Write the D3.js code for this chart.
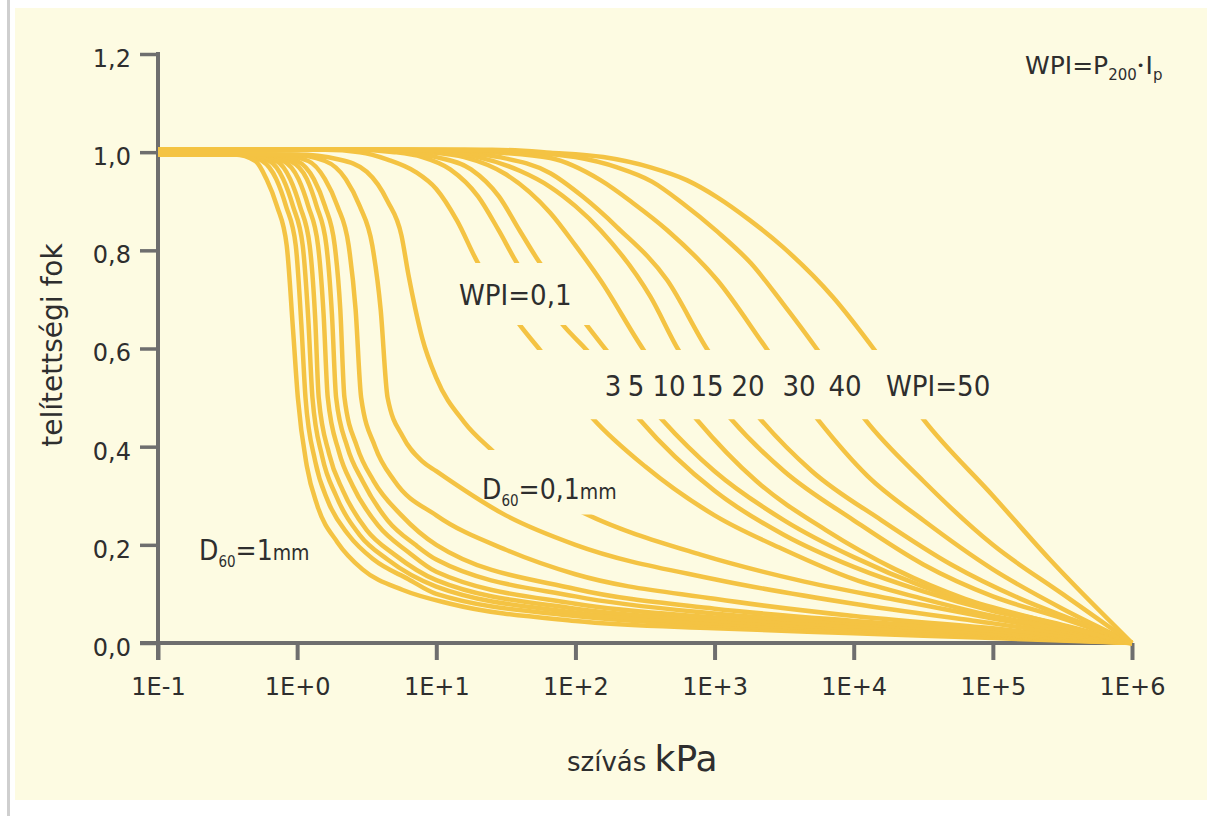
<!DOCTYPE html>
<html>
<head>
<meta charset="utf-8">
<script src="https://cdn.jsdelivr.net/npm/d3@7"></script>
<style>
  html, body { margin: 0; padding: 0; background: #ffffff; }
  svg { display: block; }
  text { font-family: "DejaVu Sans", sans-serif; fill: #2e2e2e; }
  .cond { font-family: "DejaVu Sans Condensed", "DejaVu Sans", sans-serif; }
</style>
</head>
<body>
<svg id="chart" width="1210" height="816"></svg>
<script>
// Soil-water characteristic curves: degree of saturation vs. suction.
// Each point is [log10(suction in kPa), degree of saturation].

// Granular soils, D60 = 1 mm ... 0.1 mm
const d60_10 = [[-1,0.995],[-0.45,0.995],[-0.3,0.982],[-0.22,0.945],[-0.145,0.89],[-0.075,0.81],[-0.03,0.64],[0.005,0.5],[0.07,0.36],[0.145,0.28],[0.29,0.205],[0.47,0.15],[0.76,0.108],[1.1,0.08],[2,0.045],[3,0.03],[4,0.02],[5,0.01],[6,0]];
const d60_09 = [[-1,0.995],[-0.4,0.995],[-0.25,0.982],[-0.15,0.945],[-0.08,0.89],[-0.01,0.81],[0.03,0.65],[0.06,0.5],[0.13,0.37],[0.22,0.29],[0.37,0.22],[0.55,0.17],[0.8,0.13],[1.0,0.1],[2,0.055],[3,0.036],[4,0.024],[5,0.012],[6,0]];
const d60_08 = [[-1,0.995],[-0.38,0.995],[-0.2,0.982],[-0.1,0.945],[-0.03,0.89],[0.04,0.81],[0.08,0.66],[0.11,0.5],[0.18,0.38],[0.28,0.3],[0.45,0.22],[0.65,0.17],[1.0,0.115],[2,0.062],[3,0.04],[4,0.027],[5,0.014],[6,0]];
const d60_07 = [[-1,0.995],[-0.35,0.995],[-0.15,0.982],[-0.05,0.945],[0.02,0.89],[0.09,0.81],[0.13,0.66],[0.155,0.5],[0.23,0.385],[0.33,0.31],[0.5,0.23],[0.7,0.18],[1.0,0.128],[2,0.07],[3,0.046],[4,0.03],[5,0.016],[6,0]];
const d60_06 = [[-1,0.995],[-0.3,0.995],[-0.1,0.982],[0.01,0.945],[0.08,0.89],[0.15,0.81],[0.19,0.67],[0.22,0.5],[0.3,0.39],[0.4,0.32],[0.58,0.24],[0.8,0.185],[1.0,0.145],[2,0.08],[3,0.052],[4,0.034],[5,0.018],[6,0]];
const d60_05 = [[-1,0.995],[-0.25,0.995],[-0.05,0.982],[0.07,0.945],[0.14,0.89],[0.21,0.81],[0.25,0.67],[0.28,0.5],[0.36,0.4],[0.47,0.33],[0.65,0.25],[0.85,0.2],[1.0,0.17],[2,0.095],[3,0.06],[4,0.04],[5,0.02],[6,0]];
const d60_04 = [[-1,0.995],[-0.2,0.995],[0.0,0.982],[0.12,0.945],[0.2,0.89],[0.27,0.81],[0.31,0.68],[0.34,0.5],[0.43,0.4],[0.55,0.33],[0.75,0.26],[1.0,0.2],[2,0.11],[3,0.07],[4,0.045],[5,0.025],[6,0]];
const d60_03 = [[-1,0.995],[-0.15,0.995],[0.08,0.982],[0.2,0.945],[0.29,0.89],[0.37,0.81],[0.42,0.68],[0.46,0.5],[0.56,0.4],[0.7,0.33],[1.0,0.26],[1.5,0.19],[2,0.14],[3,0.09],[4,0.055],[5,0.03],[6,0]];
const d60_02 = [[-1,0.995],[-0.05,0.995],[0.2,0.982],[0.35,0.945],[0.45,0.89],[0.54,0.81],[0.6,0.68],[0.65,0.5],[0.76,0.42],[0.9,0.37],[1.0,0.35],[1.5,0.26],[2,0.2],[3,0.13],[4,0.08],[5,0.04],[6,0]];
const d60_01 = [[-1,0.995],[0.0,0.995],[0.3,0.985],[0.5,0.96],[0.65,0.9],[0.75,0.83],[0.8,0.75],[0.85,0.68],[0.9,0.62],[1.0,0.54],[1.2,0.45],[1.41,0.39],[1.7,0.32],[2.06,0.265],[2.9,0.18],[3.6,0.128],[4.3,0.088],[5.0,0.05],[6,0]];

// Plastic soils, WPI = 0.1 ... 50
const wpi_0_1 = [[-1,1.005],[0.2,1.005],[0.45,1.0],[0.65,0.985],[0.85,0.96],[1.0,0.925],[1.15,0.86],[1.3,0.774],[1.45,0.71],[1.6,0.648],[1.745,0.597],[2.13,0.456],[2.5,0.36],[3,0.26],[3.5,0.19],[4,0.13],[4.5,0.09],[5,0.055],[5.5,0.03],[6,0]];
const wpi_3 = [[-1,1.005],[0.4,1.005],[0.7,1.0],[0.9,0.99],[1.1,0.965],[1.3,0.91],[1.45,0.84],[1.58,0.774],[1.75,0.71],[1.91,0.648],[2.08,0.597],[2.46,0.456],[3,0.31],[3.5,0.22],[4,0.155],[4.5,0.105],[5,0.065],[5.5,0.035],[6,0]];
const wpi_5 = [[-1,1.005],[0.5,1.005],[0.8,1.0],[1.0,0.99],[1.25,0.965],[1.45,0.91],[1.6,0.84],[1.745,0.774],[1.92,0.71],[2.08,0.648],[2.22,0.597],[2.62,0.456],[3,0.35],[3.5,0.25],[4,0.175],[4.5,0.115],[5,0.07],[5.5,0.037],[6,0]];
const wpi_10 = [[-1,1.005],[0.6,1.005],[0.95,1.0],[1.2,0.99],[1.5,0.955],[1.82,0.876],[2.0,0.81],[2.18,0.739],[2.49,0.597],[2.87,0.456],[3.3,0.33],[3.8,0.23],[4.3,0.15],[4.8,0.09],[5.3,0.05],[6,0]];
const wpi_15 = [[-1,1.005],[0.7,1.005],[1.05,1.0],[1.3,0.99],[1.6,0.962],[1.82,0.929],[2.0,0.89],[2.18,0.841],[2.54,0.705],[2.74,0.597],[3.12,0.456],[3.5,0.35],[4,0.25],[4.5,0.16],[5,0.095],[5.5,0.05],[6,0]];
const wpi_20 = [[-1,1.005],[0.8,1.005],[1.15,1.0],[1.45,0.99],[1.82,0.957],[2.05,0.91],[2.3,0.847],[2.66,0.739],[2.95,0.597],[3.33,0.456],[3.7,0.35],[4.2,0.25],[4.7,0.16],[5.2,0.09],[5.6,0.045],[6,0]];
const wpi_30 = [[-1,1.005],[1.0,1.005],[1.4,1.0],[1.82,0.988],[2.18,0.943],[2.42,0.895],[2.66,0.841],[3.02,0.739],[3.38,0.597],[3.74,0.456],[4.1,0.34],[4.5,0.25],[5,0.15],[5.5,0.07],[6,0]];
const wpi_40 = [[-1,1.005],[1.2,1.005],[1.6,1.0],[2.0,0.99],[2.3,0.969],[2.55,0.94],[2.77,0.896],[3.02,0.838],[3.26,0.774],[3.49,0.692],[3.74,0.597],[4.08,0.456],[4.5,0.33],[5,0.2],[5.5,0.1],[6,0]];
const wpi_50 = [[-1,1.005],[1.4,1.005],[1.82,0.999],[2.2,0.99],[2.54,0.969],[2.8,0.943],[3.02,0.908],[3.25,0.862],[3.49,0.807],[3.85,0.705],[4.15,0.597],[4.5,0.456],[5.0,0.3],[5.41,0.17],[6,0]];

// Saturation bands left open for the curve labels
const bandWpiLabel = [0.648, 0.774];
const bandWpiValues = [0.456, 0.597];
const bandD60Label = [0.262, 0.393];

const granularCurves = [d60_10, d60_09, d60_08, d60_07, d60_06, d60_05, d60_04, d60_03, d60_02, d60_01];
const plasticCurves = [wpi_0_1, wpi_3, wpi_5, wpi_10, wpi_15, wpi_20, wpi_30, wpi_40, wpi_50];

// Axis ticks
const xTickValues = [1e-1, 1e0, 1e1, 1e2, 1e3, 1e4, 1e5, 1e6];
const xTickLabels = ["1E-1", "1E+0", "1E+1", "1E+2", "1E+3", "1E+4", "1E+5", "1E+6"];
const yTickValues = [0, 0.2, 0.4, 0.6, 0.8, 1.0, 1.2];
const yTickLabels = ["0,0", "0,2", "0,4", "0,6", "0,8", "1,0", "1,2"];

// WPI labels placed across the curves
const wpiValueLabels = ["3", "5", "10", "15", "20", "30", "40"];
const wpiValueX = [613, 636, 669, 707, 748, 799, 845];

const svg = d3.select("#chart");
const W = 1210, H = 816;

// page: white with a grey rule on the left, cream panel
svg.append("rect").attr("x", 0).attr("y", 0).attr("width", W).attr("height", H).attr("fill", "#ffffff");
svg.append("rect").attr("x", 7).attr("y", 0).attr("width", 3).attr("height", H).attr("fill", "#cfcfcf");
svg.append("rect").attr("x", 15).attr("y", 8).attr("width", 1192).attr("height", 792).attr("fill", "#fdfbe2");

const x = d3.scaleLog().domain([1e-1, 1e6]).range([158, 1132]);
const y = d3.scaleLinear().domain([0, 1.2]).range([643, 54]);

const axisColor = "#6e6e6e";

// axis lines
svg.append("line").attr("x1", x(1e-1)).attr("x2", x(1e-1))
  .attr("y1", y(1.2) - 2).attr("y2", y(0) + 17)
  .attr("stroke", axisColor).attr("stroke-width", 4);
svg.append("line").attr("x1", x(1e-1) - 18).attr("x2", x(1e6))
  .attr("y1", y(0)).attr("y2", y(0))
  .attr("stroke", axisColor).attr("stroke-width", 4);

const yAxis = d3.axisLeft(y).tickValues(yTickValues).tickSize(18).tickSizeOuter(0)
  .tickFormat((d, i) => yTickLabels[i]);
const gy = svg.append("g").attr("transform", `translate(${x(1e-1)},0)`).call(yAxis);
gy.select(".domain").remove();
gy.selectAll(".tick line").attr("stroke", axisColor).attr("stroke-width", 3.5);
gy.selectAll(".tick text").attr("x", -27).attr("dy", "0.52em")
  .style("font-size", "24px").attr("fill", "#2e2e2e").style("font-family", "DejaVu Sans, sans-serif");

const xAxis = d3.axisBottom(x).tickValues(xTickValues).tickSize(17).tickSizeOuter(0)
  .tickFormat((d, i) => xTickLabels[i]);
const gx = svg.append("g").attr("transform", `translate(0,${y(0)})`).call(xAxis);
gx.select(".domain").remove();
gx.selectAll(".tick line").attr("stroke", axisColor).attr("stroke-width", 4);
gx.selectAll(".tick text").attr("y", 45).attr("dy", "0.3em")
  .style("font-size", "24px").attr("fill", "#2e2e2e").style("font-family", "DejaVu Sans, sans-serif");

// curves
const line = d3.line()
  .x(p => x(Math.pow(10, p[0])))
  .y(p => y(p[1]))
  .curve(d3.curveMonotoneX);

const defs = svg.append("defs");
let clipId = 0;
// clip that hides the given saturation bands
function bandClip(bands) {
  const id = "clip" + (clipId++);
  const cp = defs.append("clipPath").attr("id", id);
  const edges = bands.slice().sort((a, b) => b[1] - a[1]);
  let top = 0;
  edges.forEach(b => {
    cp.append("rect").attr("x", 0).attr("y", top).attr("width", W).attr("height", y(b[1]) - top);
    top = y(b[0]);
  });
  cp.append("rect").attr("x", 0).attr("y", top).attr("width", W).attr("height", H - top);
  return `url(#${id})`;
}

const curveColor = "#f4c343";
const gCurves = svg.append("g");

granularCurves.forEach((c, i) => {
  const path = gCurves.append("path").datum(c)
    .attr("d", line).attr("fill", "none")
    .attr("stroke", curveColor).attr("stroke-width", 4.5);
  if (c === d60_01) path.attr("clip-path", bandClip([bandD60Label]));
});

plasticCurves.forEach((c, i) => {
  const bands = i < 3 ? [bandWpiLabel, bandWpiValues] : [bandWpiValues];
  gCurves.append("path").datum(c)
    .attr("d", line).attr("fill", "none")
    .attr("stroke", curveColor).attr("stroke-width", 4.5)
    .attr("clip-path", bandClip(bands));
});

// axis titles
svg.append("text")
  .attr("transform", `translate(62,345) rotate(-90)`)
  .attr("text-anchor", "middle")
  .style("font-size", "28px")
  .text("telítettségi fok");

const xt = svg.append("text").attr("x", 567).attr("y", 771);
xt.append("tspan").style("font-size", "26px").text("szívás ");
xt.append("tspan").style("font-size", "36px").text("kPa");

// formula
const f = svg.append("text").attr("x", 1025).attr("y", 74).style("font-size", "25px");
f.append("tspan").text("WPI=P");
f.append("tspan").attr("dy", 6).style("font-size", "15px").text("200");
f.append("tspan").attr("dy", -10).style("font-size", "13px").text("•");
f.append("tspan").attr("dy", 4).attr("dx", 1).text("I");
f.append("tspan").attr("dy", 6).style("font-size", "15px").text("p");

// curve labels
svg.append("text").attr("class", "cond").attr("x", 459).attr("y", 305)
  .style("font-size", "29px").text("WPI=0,1");

svg.selectAll("text.wpiv").data(wpiValueLabels).enter().append("text")
  .attr("class", "cond wpiv")
  .attr("x", (d, i) => wpiValueX[i]).attr("y", 396)
  .attr("text-anchor", "middle").style("font-size", "29px")
  .text(d => d);
svg.append("text").attr("class", "cond").attr("x", 886).attr("y", 396)
  .style("font-size", "29px").text("WPI=50");

const d1 = svg.append("text").attr("class", "cond").attr("x", 199).attr("y", 560).style("font-size", "28px");
d1.append("tspan").text("D");
d1.append("tspan").attr("dy", 7).style("font-size", "15px").text("60");
d1.append("tspan").attr("dy", -7).text("=1");
d1.append("tspan").style("font-size", "21px").text("mm");

const d2 = svg.append("text").attr("class", "cond").attr("x", 482).attr("y", 499).style("font-size", "28px");
d2.append("tspan").text("D");
d2.append("tspan").attr("dy", 7).style("font-size", "15px").text("60");
d2.append("tspan").attr("dy", -7).text("=0,1");
d2.append("tspan").style("font-size", "21px").text("mm");
</script>
</body>
</html>
